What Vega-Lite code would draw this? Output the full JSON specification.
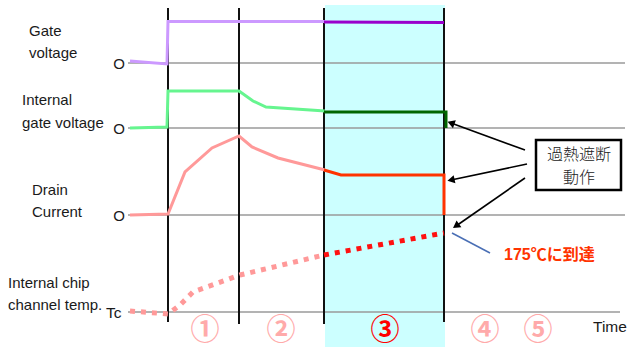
{
  "$schema": "https://vega.github.io/schema/vega-lite/v6.json",
  "width": 628,
  "height": 347,
  "autosize": {"type": "none"},
  "padding": 0,
  "background": "white",
  "config": {"view": {"stroke": null}},
  "resolve": {"scale": {"color": "independent"}},
  "datasets": {
    "zone": [{"t0": 325, "t1": 445, "v0": 5, "v1": 347}],
    "baselines": [
      {"t0": 128, "t1": 625, "v": 63},
      {"t0": 128, "t1": 625, "v": 128},
      {"t0": 128, "t1": 625, "v": 215},
      {"t0": 128, "t1": 620, "v": 312}
    ],
    "phases": [
      {"t": 168, "v0": 8, "v1": 322},
      {"t": 239, "v0": 8, "v1": 324},
      {"t": 324, "v0": 8, "v1": 324},
      {"t": 444, "v0": 8, "v1": 322}
    ],
    "signals": [
      {"s": "gate1", "o": 1, "t": 130, "v": 61},
      {"s": "gate1", "o": 2, "t": 167, "v": 64},
      {"s": "gate1", "o": 3, "t": 168, "v": 21.5},
      {"s": "gate1", "o": 4, "t": 325, "v": 21.5},
      {"s": "gate2", "o": 1, "t": 324, "v": 22},
      {"s": "gate2", "o": 2, "t": 444, "v": 22.5},
      {"s": "igate1", "o": 1, "t": 130, "v": 128},
      {"s": "igate1", "o": 2, "t": 167, "v": 127},
      {"s": "igate1", "o": 3, "t": 168, "v": 91},
      {"s": "igate1", "o": 4, "t": 239, "v": 91},
      {"s": "igate1", "o": 5, "t": 253, "v": 101},
      {"s": "igate1", "o": 6, "t": 266, "v": 107},
      {"s": "igate1", "o": 7, "t": 325, "v": 111},
      {"s": "igate2", "o": 1, "t": 324, "v": 112},
      {"s": "igate2", "o": 2, "t": 446, "v": 112},
      {"s": "igate2", "o": 3, "t": 446, "v": 128},
      {"s": "drain1", "o": 1, "t": 130, "v": 215},
      {"s": "drain1", "o": 2, "t": 168, "v": 214},
      {"s": "drain1", "o": 3, "t": 185, "v": 172},
      {"s": "drain1", "o": 4, "t": 212, "v": 148},
      {"s": "drain1", "o": 5, "t": 239, "v": 136},
      {"s": "drain1", "o": 6, "t": 252, "v": 147},
      {"s": "drain1", "o": 7, "t": 278, "v": 158},
      {"s": "drain1", "o": 8, "t": 325, "v": 170},
      {"s": "drain2", "o": 1, "t": 324, "v": 170},
      {"s": "drain2", "o": 2, "t": 341, "v": 175},
      {"s": "drain2", "o": 3, "t": 444, "v": 175},
      {"s": "drain2", "o": 4, "t": 444, "v": 215}
    ],
    "temps": [
      {"s": "temp1", "o": 1, "t": 130, "v": 311},
      {"s": "temp1", "o": 2, "t": 168, "v": 314},
      {"s": "temp1", "o": 3, "t": 180, "v": 305},
      {"s": "temp1", "o": 4, "t": 193, "v": 292},
      {"s": "temp1", "o": 5, "t": 240, "v": 275},
      {"s": "temp1", "o": 6, "t": 324, "v": 255},
      {"s": "temp2", "o": 1, "t": 324, "v": 255},
      {"s": "temp2", "o": 2, "t": 444, "v": 233}
    ],
    "arrows": [
      {"a": "A1", "o": 1, "t": 525, "v": 150},
      {"a": "A1", "o": 2, "t": 451, "v": 123},
      {"a": "A2", "o": 1, "t": 527, "v": 164},
      {"a": "A2", "o": 2, "t": 451, "v": 180},
      {"a": "A3", "o": 1, "t": 525, "v": 178},
      {"a": "A3", "o": 2, "t": 456, "v": 226}
    ],
    "leader": [
      {"o": 1, "t": 452, "v": 233},
      {"o": 2, "t": 490, "v": 253}
    ],
    "box": [{"t0": 536, "t1": 621, "v0": 140, "v1": 190}],
    "leftLabels": [
      {"t": 29, "v": 31, "label": "Gate"},
      {"t": 29, "v": 53, "label": "voltage"},
      {"t": 22, "v": 100, "label": "Internal"},
      {"t": 22, "v": 123, "label": "gate voltage"},
      {"t": 32, "v": 190, "label": "Drain"},
      {"t": 32, "v": 212, "label": "Current"},
      {"t": 8, "v": 283, "label": "Internal chip"},
      {"t": 8, "v": 305, "label": "channel temp."}
    ],
    "bigLabels": [
      {"t": 106, "v": 313, "label": "Tc"},
      {"t": 593, "v": 327, "label": "Time"}
    ],
    "zeros": [
      {"t": 119, "v": 64, "label": "O"},
      {"t": 119, "v": 129, "label": "O"},
      {"t": 119, "v": 216, "label": "O"}
    ],
    "steps": [
      {"t": 205, "v": 331, "label": "①", "hl": "no"},
      {"t": 281, "v": 331, "label": "②", "hl": "no"},
      {"t": 385, "v": 331, "label": "③", "hl": "yes"},
      {"t": 485, "v": 331, "label": "④", "hl": "no"},
      {"t": 538, "v": 331, "label": "⑤", "hl": "no"}
    ],
    "boxText": [
      {"t": 579, "v": 155, "label": "過熱遮断"},
      {"t": 579, "v": 178, "label": "動作"}
    ],
    "note": [{"t": 504, "v": 255, "label": "175℃に到達"}]
  },
  "encoding": {
    "x": {"field": "t", "type": "quantitative", "scale": {"domain": [0, 628], "nice": false, "zero": false}, "axis": null},
    "y": {"field": "v", "type": "quantitative", "scale": {"domain": [0, 347], "nice": false, "zero": false, "reverse": true}, "axis": null}
  },
  "layer": [
    {
      "data": {"name": "zone"},
      "mark": {"type": "rect", "color": "#CCFFFF"},
      "encoding": {
        "x": {"field": "t0", "type": "quantitative"},
        "x2": {"field": "t1"},
        "y": {"field": "v0", "type": "quantitative"},
        "y2": {"field": "v1"}
      }
    },
    {
      "data": {"name": "baselines"},
      "mark": {"type": "rule", "color": "#9a9a9a", "strokeWidth": 1.3},
      "encoding": {
        "x": {"field": "t0", "type": "quantitative"},
        "x2": {"field": "t1"}
      }
    },
    {
      "data": {"name": "phases"},
      "mark": {"type": "rule", "color": "#111111", "strokeWidth": 2},
      "encoding": {
        "y": {"field": "v0", "type": "quantitative"},
        "y2": {"field": "v1"}
      }
    },
    {
      "data": {"name": "temps"},
      "mark": {"type": "line", "strokeWidth": 5, "strokeDash": [5, 6], "strokeCap": "butt"},
      "encoding": {
        "detail": {"field": "s"},
        "order": {"field": "o", "type": "quantitative"},
        "stroke": {"field": "s", "type": "nominal", "legend": null, "scale": {"domain": ["temp1", "temp2"], "range": ["#FF9999", "#FF1111"]}}
      }
    },
    {
      "data": {"name": "signals"},
      "mark": {"type": "line", "strokeWidth": 3, "strokeJoin": "miter"},
      "encoding": {
        "detail": {"field": "s"},
        "order": {"field": "o", "type": "quantitative"},
        "color": {"field": "s", "type": "nominal", "legend": null, "scale": {"domain": ["gate1", "gate2", "igate1", "igate2", "drain1", "drain2"], "range": ["#CC99FF", "#9900CC", "#66F58F", "#006600", "#FF9999", "#FF3300"]}}
      }
    },
    {
      "data": {"name": "leader"},
      "mark": {"type": "line", "color": "#4A6FB5", "strokeWidth": 1.5},
      "encoding": {"order": {"field": "o", "type": "quantitative"}}
    },
    {
      "data": {"name": "arrows"},
      "mark": {"type": "line", "color": "#000000", "strokeWidth": 1.6},
      "encoding": {"detail": {"field": "a"}, "order": {"field": "o", "type": "quantitative"}}
    },
    {
      "data": {"name": "arrows"},
      "transform": [{"filter": "datum.a == 'A1' && datum.o == 2"}],
      "mark": {"type": "point", "shape": "triangle-up", "filled": true, "color": "#000000", "size": 70, "angle": 290, "opacity": 1}
    },
    {
      "data": {"name": "arrows"},
      "transform": [{"filter": "datum.a == 'A2' && datum.o == 2"}],
      "mark": {"type": "point", "shape": "triangle-up", "filled": true, "color": "#000000", "size": 70, "angle": 258, "opacity": 1}
    },
    {
      "data": {"name": "arrows"},
      "transform": [{"filter": "datum.a == 'A3' && datum.o == 2"}],
      "mark": {"type": "point", "shape": "triangle-up", "filled": true, "color": "#000000", "size": 70, "angle": 235, "opacity": 1}
    },
    {
      "data": {"name": "box"},
      "mark": {"type": "rect", "fill": "white", "stroke": "#000000", "strokeWidth": 2.5},
      "encoding": {
        "x": {"field": "t0", "type": "quantitative"},
        "x2": {"field": "t1"},
        "y": {"field": "v0", "type": "quantitative"},
        "y2": {"field": "v1"}
      }
    },
    {
      "data": {"name": "boxText"},
      "mark": {"type": "text", "font": "Noto Sans CJK JP", "fontSize": 16, "fontWeight": 300, "color": "#222222", "align": "center", "baseline": "middle"},
      "encoding": {"text": {"field": "label"}}
    },
    {
      "data": {"name": "leftLabels"},
      "mark": {"type": "text", "font": "Liberation Sans", "fontSize": 15, "color": "#1a1a1a", "align": "left", "baseline": "middle"},
      "encoding": {"text": {"field": "label"}}
    },
    {
      "data": {"name": "bigLabels"},
      "mark": {"type": "text", "font": "Liberation Sans", "fontSize": 15.5, "color": "#1a1a1a", "align": "left", "baseline": "middle"},
      "encoding": {"text": {"field": "label"}}
    },
    {
      "data": {"name": "zeros"},
      "mark": {"type": "text", "font": "Liberation Sans", "fontSize": 15, "color": "#1a1a1a", "align": "center", "baseline": "middle"},
      "encoding": {"text": {"field": "label"}}
    },
    {
      "data": {"name": "steps"},
      "mark": {"type": "text", "font": "Noto Sans CJK JP", "fontSize": 29, "fontWeight": "bold", "align": "center", "baseline": "middle"},
      "encoding": {
        "text": {"field": "label"},
        "color": {"field": "hl", "type": "nominal", "legend": null, "scale": {"domain": ["no", "yes"], "range": ["#FFAAAA", "#FF0000"]}}
      }
    },
    {
      "data": {"name": "note"},
      "mark": {"type": "text", "font": "Liberation Sans, Noto Sans CJK JP", "fontSize": 16, "fontWeight": "bold", "color": "#FF3300", "align": "left", "baseline": "middle"},
      "encoding": {"text": {"field": "label"}}
    }
  ]
}
